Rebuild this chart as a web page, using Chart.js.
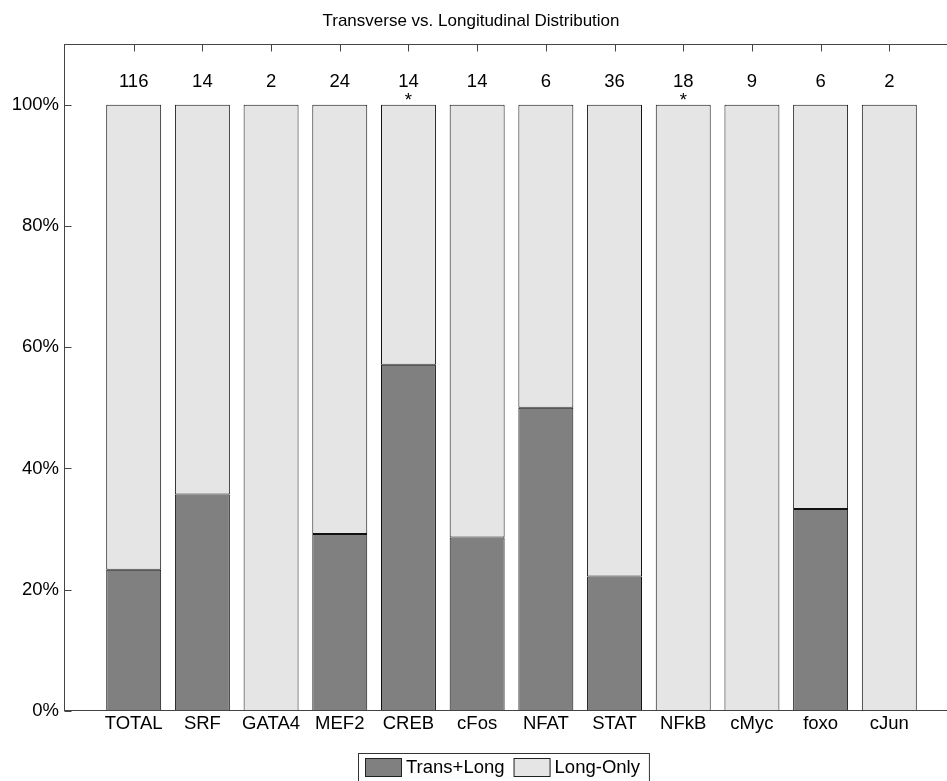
<!DOCTYPE html>
<html>
<head>
<meta charset="utf-8">
<script src="https://cdn.jsdelivr.net/npm/chart.js@4.4.1/dist/chart.umd.min.js"></script>
<style>
html,body{margin:0;padding:0;background:#fff;overflow:hidden;}
#wrap{position:relative;width:1000px;height:781px;}
</style>
</head>
<body>
<div id="wrap"><canvas id="c"></canvas></div>
<script>
const title = 'Transverse vs. Longitudinal Distribution';
const categories = ['TOTAL','SRF','GATA4','MEF2','CREB','cFos','NFAT','STAT','NFkB','cMyc','foxo','cJun'];
const transLong = [23.3, 35.7, 0, 29.2, 57.1, 28.6, 50.0, 22.2, 0, 0, 33.3, 0];
const longOnly  = [76.7, 64.3, 100, 70.8, 42.9, 71.4, 50.0, 77.8, 100, 100, 66.7, 100];
const counts = ['116','14','2','24','14','14','6','36','18','9','6','2'];
const significant = [false,false,false,false,true,false,false,false,true,false,false,false];
const seriesNames = ['Trans+Long','Long-Only'];
const yTicks = [0,20,40,60,80,100];

const FONT = '"Liberation Sans", Arial, Helvetica, sans-serif';
const FS = 18.5;
const LINE = '#444444';

const extras = {
  id: 'extras',
  afterDatasetsDraw(chart) {
    const ctx = chart.ctx, a = chart.chartArea;
    const xs = chart.scales.x, ys = chart.scales.y;
    ctx.save();
    // frame
    const L = Math.round(a.left) - 0.5, R = Math.round(a.right) - 0.5;
    const T = Math.round(a.top) + 0.5, B = Math.round(a.bottom) - 0.5;
    ctx.strokeStyle = LINE; ctx.lineWidth = 1;
    ctx.strokeRect(L, T, R - L, B - T);
    ctx.beginPath();
    yTicks.forEach(v => {
      const y = Math.round(ys.getPixelForValue(v)) + 0.5;
      ctx.moveTo(L, y); ctx.lineTo(L + 7, y);
      ctx.moveTo(R, y); ctx.lineTo(R - 7, y);
    });
    categories.forEach((c, i) => {
      const x = Math.round(xs.getPixelForValue(i + 1)) + 0.5;
      ctx.moveTo(x, T); ctx.lineTo(x, T + 7);
    });
    ctx.stroke();
    // counts above bars
    ctx.fillStyle = '#000';
    ctx.font = FS + 'px ' + FONT;
    ctx.textAlign = 'center';
    ctx.textBaseline = 'middle';
    counts.forEach((n, i) => {
      ctx.fillText(n, xs.getPixelForValue(i + 1), ys.getPixelForValue(103.7));
    });
    ctx.textBaseline = 'alphabetic';
    significant.forEach((s, i) => {
      if (s) ctx.fillText('*', xs.getPixelForValue(i + 1), ys.getPixelForValue(99.8));
    });
    // title
    ctx.font = '17px ' + FONT;
    ctx.textBaseline = 'middle';
    ctx.fillText(title, 471, 21);
    // legend
    const ds = chart.data.datasets;
    const lx = 358, ly = 753;
    ctx.font = FS + 'px ' + FONT;
    let x = lx + 7;
    const items = ds.map(d => ({label: d.label, color: d.backgroundColor, w: ctx.measureText(d.label).width}));
    let total = 7;
    items.forEach(it => { total += 37 + 5 + it.w + 8; });
    ctx.strokeStyle = '#333';
    ctx.strokeRect(lx + 0.5, ly + 0.5, total, 40);
    ctx.textAlign = 'left';
    items.forEach(it => {
      ctx.fillStyle = it.color;
      ctx.fillRect(x, 758, 37, 19);
      ctx.strokeStyle = '#222';
      ctx.strokeRect(x + 0.5, 758.5, 36, 18);
      ctx.fillStyle = '#000';
      ctx.fillText(it.label, x + 37 + 4, 768);
      x += 37 + 5 + it.w + 8;
    });
    ctx.restore();
  }
};

new Chart(document.getElementById('c'), {
  type: 'bar',
  data: {
    datasets: [
      {
        label: seriesNames[0],
        data: categories.map((c, i) => ({x: i + 1, y: transLong[i]})),
        backgroundColor: '#808080', borderColor: '#111111', borderWidth: 1, borderSkipped: false,
        barPercentage: 0.8, categoryPercentage: 1
      },
      {
        label: seriesNames[1],
        data: categories.map((c, i) => ({x: i + 1, y: longOnly[i]})),
        backgroundColor: '#e5e5e5', borderColor: '#111111', borderWidth: 1, borderSkipped: false,
        barPercentage: 0.8, categoryPercentage: 1
      }
    ]
  },
  options: {
    responsive: true,
    maintainAspectRatio: false,
    animation: false,
    layout: {padding: {top: 44, right: 42, left: 0, bottom: 0}},
    plugins: {legend: {display: false}, title: {display: false}, tooltip: {enabled: false}},
    scales: {
      x: {
        type: 'linear', stacked: true, min: 0, max: 13, offset: false,
        grid: {display: false, drawTicks: false},
        border: {display: false},
        afterBuildTicks: s => { s.ticks = categories.map((c, i) => ({value: i + 1})); },
        afterFit: s => { s.height = 70; },
        ticks: {
          autoSkip: false, maxRotation: 0, padding: 2, color: '#000',
          font: {family: FONT, size: FS},
          callback: v => categories[v - 1] ?? ''
        }
      },
      y: {
        stacked: true, min: 0, max: 110,
        grid: {display: false, drawTicks: false},
        border: {display: false},
        afterBuildTicks: s => { s.ticks = yTicks.map(v => ({value: v})); },
        afterFit: s => { s.width = 65; },
        ticks: {
          padding: 6, color: '#000',
          font: {family: FONT, size: FS},
          callback: v => v + '%'
        }
      }
    }
  },
  plugins: [extras]
});
</script>
</body>
</html>
